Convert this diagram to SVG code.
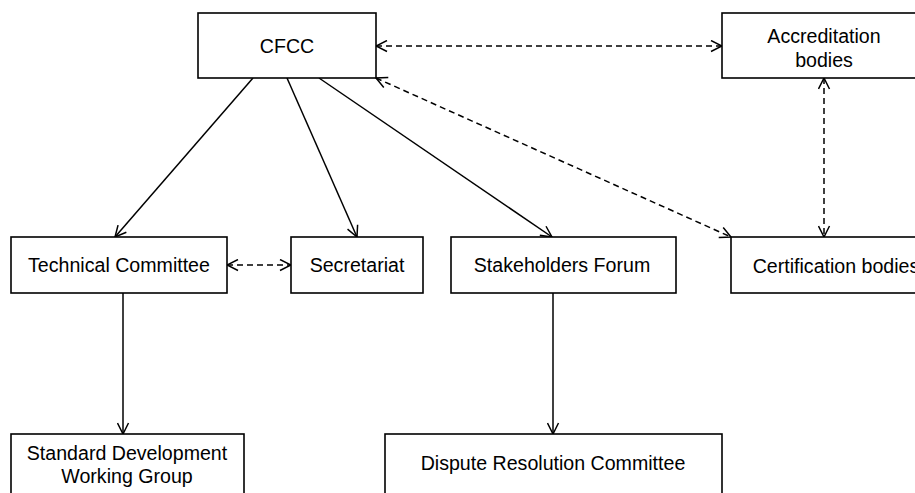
<svg xmlns="http://www.w3.org/2000/svg" width="915" height="493" viewBox="0 0 915 493">
<defs>
<style>
.box{fill:#fff;stroke:#000;stroke-width:1.6}
.t{font-family:"Liberation Sans",Arial,sans-serif;font-size:19.6px;fill:#000;text-anchor:middle}
.c{fill:none;stroke:#000;stroke-width:1.5}
.d{stroke-dasharray:6,4}
</style>
<marker id="ah" viewBox="0 0 13 13" refX="12" refY="6.5" markerWidth="13" markerHeight="13" markerUnits="userSpaceOnUse" orient="auto-start-reverse">
<path d="M1,1 L12,6.5 L1,12" fill="none" stroke="#000" stroke-width="1.5"/>
</marker>
</defs>
<rect width="915" height="493" fill="#fff"/>
<g id="connectors">
<line class="c" x1="253" y1="78" x2="115" y2="237" marker-end="url(#ah)"/>
<line class="c" x1="287" y1="78" x2="357" y2="237" marker-end="url(#ah)"/>
<line class="c" x1="319" y1="78" x2="552" y2="237" marker-end="url(#ah)"/>
<line class="c d" x1="376" y1="46" x2="722" y2="46" marker-start="url(#ah)" marker-end="url(#ah)"/>
<line class="c d" x1="376" y1="78" x2="731" y2="237" marker-start="url(#ah)" marker-end="url(#ah)"/>
<line class="c d" x1="824" y1="78" x2="824" y2="237" marker-start="url(#ah)" marker-end="url(#ah)"/>
<line class="c d" x1="227" y1="265" x2="291" y2="265" marker-start="url(#ah)" marker-end="url(#ah)"/>
<line class="c" x1="123" y1="293" x2="123" y2="434" marker-end="url(#ah)"/>
<line class="c" x1="553" y1="293" x2="553" y2="434" marker-end="url(#ah)"/>
</g>
<g id="cfcc"><rect class="box" x="198" y="13" width="178" height="65"/><text class="t" x="287" y="53">CFCC</text></g>
<g id="accreditation"><rect class="box" x="722" y="13" width="204" height="65"/><text class="t" x="824" y="43">Accreditation</text><text class="t" x="824" y="67">bodies</text></g>
<g id="technical"><rect class="box" x="11" y="237" width="216" height="56"/><text class="t" x="119" y="272">Technical Committee</text></g>
<g id="secretariat"><rect class="box" x="291" y="237" width="132" height="56"/><text class="t" x="357" y="272">Secretariat</text></g>
<g id="stakeholders"><rect class="box" x="451" y="237" width="225" height="56"/><text class="t" x="562" y="272">Stakeholders Forum</text></g>
<g id="certification"><rect class="box" x="731" y="237" width="210" height="56"/><text class="t" x="836" y="273">Certification bodies</text></g>
<g id="sdwg"><rect class="box" x="11" y="434" width="233" height="70"/><text class="t" x="127" y="460">Standard Development</text><text class="t" x="127" y="483">Working Group</text></g>
<g id="dispute"><rect class="box" x="385" y="434" width="337" height="70"/><text class="t" x="553" y="470">Dispute Resolution Committee</text></g>
</svg>
